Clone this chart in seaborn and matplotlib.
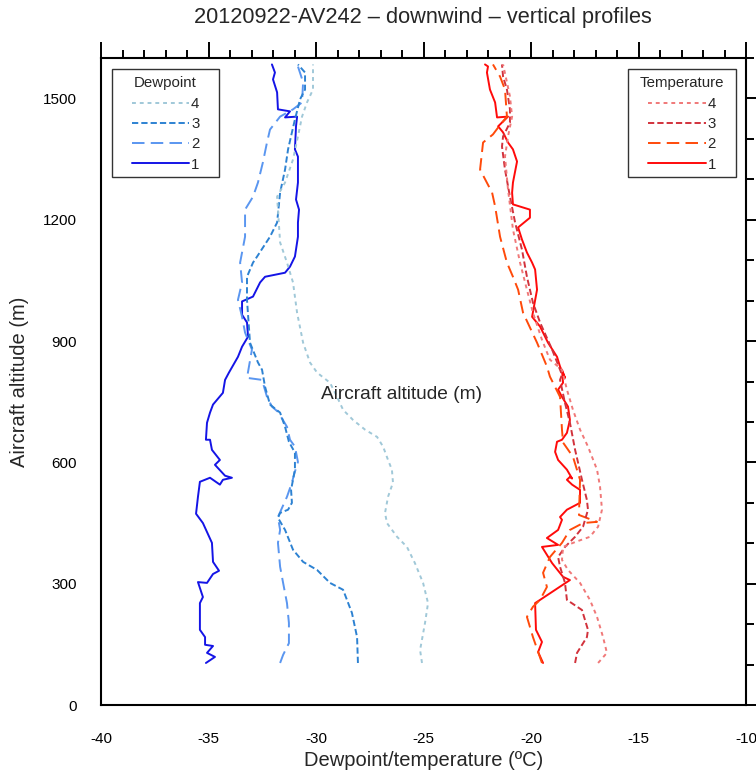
import numpy as np
import pandas as pd
import seaborn as sns
import matplotlib
matplotlib.use("Agg")
import matplotlib.pyplot as plt
from matplotlib.ticker import MultipleLocator
from matplotlib.patches import Rectangle

# dewpoint profiles (degC) vs aircraft altitude (m)
dew1_t = [-35.12, -34.70, -35.07, -34.79, -35.16, -35.16, -35.40, -35.40, -35.26, -35.49, -35.07, -34.79,
          -34.51, -34.79, -34.84, -35.26, -35.58, -35.49, -35.40, -34.93, -34.47, -34.33, -33.91, -34.23,
          -34.70, -34.47, -34.84, -34.93, -35.12, -35.07, -34.93, -34.79, -34.33, -34.23, -34.05, -33.63,
          -33.44, -33.16, -33.21, -33.44, -33.44, -32.93, -32.60, -32.37, -31.44, -31.21, -30.98, -30.84,
          -30.84, -30.79, -30.93, -30.84, -30.84, -30.98, -30.93, -30.88, -31.44, -31.21, -31.77, -31.81,
          -32.00, -31.91, -32.05]
dew1_z = [104, 119, 129, 146, 149, 168, 186, 252, 267, 304, 302, 324,
          332, 354, 401, 450, 473, 515, 552, 562, 545, 557, 562, 567,
          594, 606, 631, 656, 656, 698, 723, 743, 772, 804, 822, 861,
          886, 911, 946, 965, 998, 1010, 1045, 1059, 1069, 1084, 1109, 1158,
          1193, 1225, 1250, 1292, 1356, 1374, 1431, 1455, 1453, 1468, 1473, 1515,
          1547, 1564, 1584]

dew2_t = [-31.67, -31.53, -31.26, -31.26, -31.35, -31.53, -31.67, -31.77, -31.67, -31.77, -31.35, -31.12,
          -31.00, -30.84, -30.98, -31.21, -31.35, -31.77, -32.05, -32.28, -32.51, -33.21, -32.98, -33.30,
          -33.44, -33.63, -33.44, -33.53, -33.30, -33.30, -32.93, -32.70, -32.47, -32.28, -32.14, -31.67,
          -31.07, -30.65, -30.60, -30.84]
dew2_z = [104, 124, 153, 203, 252, 302, 342, 401, 433, 465, 515, 550,
          574, 601, 639, 656, 688, 725, 738, 762, 804, 809, 879, 921,
          960, 1002, 1045, 1094, 1158, 1225, 1257, 1292, 1342, 1391, 1423, 1455,
          1473, 1490, 1540, 1579]

dew3_t = [-28.05, -28.09, -28.33, -28.74, -29.35, -29.95, -30.60, -31.07, -31.44, -31.77, -31.67, -31.30,
          -31.12, -31.16, -30.98, -30.98, -31.26, -31.44, -31.67, -32.14, -32.37, -32.51, -32.70, -33.07,
          -33.21, -33.21, -32.93, -32.74, -32.14, -31.81, -31.67, -31.44, -31.30, -31.12, -30.98, -30.74,
          -30.51, -30.51, -30.84]
dew3_z = [104, 168, 228, 285, 302, 334, 354, 384, 433, 463, 475, 483,
          500, 532, 582, 624, 651, 688, 723, 743, 787, 829, 847, 896,
          1002, 1059, 1094, 1109, 1158, 1193, 1267, 1324, 1374, 1416, 1448, 1498,
          1522, 1564, 1584]

dew4_t = [-25.07, -25.16, -24.93, -24.79, -25.02, -25.40, -25.77, -26.23, -26.70, -26.79, -26.65, -26.42,
          -26.47, -26.65, -26.88, -27.16, -27.72, -28.28, -28.74, -29.02, -29.35, -29.95, -30.28, -30.60,
          -30.88, -31.07, -31.35, -31.67, -31.81, -31.44, -31.07, -30.84, -30.65, -30.42, -30.14, -30.14,
          -30.14]
dew4_z = [104, 136, 203, 252, 302, 351, 391, 416, 450, 475, 515, 550,
          582, 606, 639, 663, 681, 705, 730, 762, 797, 822, 847, 896,
          970, 1045, 1094, 1144, 1257, 1292, 1349, 1406, 1455, 1490, 1522, 1572,
          1584]

# temperature profiles
tmp1_t = [-19.44, -19.67, -19.49, -19.77, -19.81, -19.58, -18.19, -18.51, -19.02, -19.49, -18.74, -19.26,
          -18.74, -18.56, -18.65, -18.33, -17.72, -17.72, -18.09, -18.33, -18.19, -18.09, -18.33, -18.74,
          -18.88, -18.79, -18.56, -18.33, -18.19, -18.28, -18.56, -18.74, -18.51, -18.56, -18.42, -18.65,
          -18.79, -19.21, -19.58, -19.95, -19.72, -19.81, -19.95, -20.19, -20.42, -20.60, -20.05, -20.05,
          -20.84, -20.88, -20.84, -20.65, -20.84, -21.07, -21.30, -21.53, -21.07, -21.58, -21.67, -21.91,
          -22.05, -22.00, -22.14]
tmp1_z = [104, 131, 156, 186, 252, 260, 309, 317, 351, 391, 396, 413,
          433, 458, 465, 483, 500, 532, 545, 557, 564, 560, 582, 606,
          626, 651, 656, 673, 705, 738, 762, 780, 797, 829, 809, 837,
          861, 896, 936, 960, 1027, 1077, 1094, 1119, 1151, 1181, 1205, 1225,
          1238, 1267, 1292, 1344, 1374, 1391, 1416, 1431, 1455, 1453, 1490, 1522,
          1564, 1579, 1584]

tmp2_t = [-19.49, -19.91, -20.19, -19.91, -19.58, -19.26, -19.44, -19.12, -18.56, -18.19, -17.58, -16.93,
          -17.77, -17.72, -18.05, -18.51, -18.56, -18.65, -19.12, -19.26, -19.72, -20.37, -20.60, -20.84,
          -21.12, -21.44, -21.67, -21.81, -22.37, -22.23, -21.77, -21.53, -21.12, -21.21, -21.44, -21.77]
tmp2_z = [104, 168, 218, 243, 260, 292, 327, 366, 401, 433, 450, 453,
          470, 557, 614, 649, 681, 762, 812, 837, 896, 970, 1027, 1059,
          1094, 1158, 1233, 1267, 1324, 1391, 1411, 1428, 1455, 1522, 1554, 1584]

tmp3_t = [-17.95, -17.86, -17.40, -17.35, -17.63, -18.33, -18.42, -18.65, -18.74, -18.42, -17.95, -17.58,
          -17.35, -17.40, -17.63, -17.81, -17.95, -18.19, -18.42, -18.65, -18.56, -19.02, -19.58, -19.91,
          -20.19, -20.42, -20.74, -20.98, -21.21, -21.35, -21.30, -20.98, -20.98, -21.12, -21.30, -21.35]
tmp3_z = [104, 129, 168, 186, 235, 260, 302, 342, 366, 391, 416, 441,
          483, 507, 557, 599, 631, 698, 747, 804, 817, 879, 946, 995,
          1059, 1126, 1193, 1257, 1324, 1381, 1406, 1440, 1473, 1522, 1554, 1584]

tmp4_t = [-16.88, -16.47, -16.65, -16.93, -17.26, -17.72, -18.28, -18.56, -18.51, -17.95, -17.26, -16.88,
          -16.70, -16.79, -16.93, -17.35, -17.72, -18.05, -18.33, -18.56, -19.12, -19.49, -19.91, -20.19,
          -20.51, -20.84, -21.07, -21.21, -21.07, -20.88, -20.98, -21.12, -21.30]
tmp4_z = [104, 129, 168, 218, 260, 302, 334, 359, 391, 403, 416, 441,
          483, 540, 582, 639, 681, 730, 780, 829, 854, 903, 970, 1027,
          1094, 1176, 1275, 1356, 1406, 1455, 1505, 1540, 1584]

flights = ["1", "2", "3", "4"]
dew_colors = ["#1414e6", "#5a96f0", "#2d82d2", "#a0c8d8"]
tmp_colors = ["#ff0a0a", "#ff4a0a", "#d2323c", "#f07878"]
styles = ["-", (0, (9, 4.5)), (0, (4.5, 2.2)), (0, (2.8, 2.8))]

sns.set_style("white")
plt.rcParams["font.family"] = ["Liberation Sans", "DejaVu Sans"]
plt.rcParams["axes.unicode_minus"] = False
plt.rcParams["lines.scale_dashes"] = False

fig = plt.figure(figsize=(7.56, 7.74), dpi=100)
ax = fig.add_axes([0.1336, 0.0891, 0.8532, 0.836])

dew = [(dew1_t, dew1_z), (dew2_t, dew2_z), (dew3_t, dew3_z), (dew4_t, dew4_z)]
tmp = [(tmp1_t, tmp1_z), (tmp2_t, tmp2_z), (tmp3_t, tmp3_z), (tmp4_t, tmp4_z)]

dew_lines = []
for i, (t, z) in enumerate(dew):
    df = pd.DataFrame({"t": t, "z": z})
    sns.lineplot(data=df, x="t", y="z", sort=False, estimator=None, ax=ax,
                 color=dew_colors[i], linestyle=styles[i], linewidth=1.4)
    dew_lines.append(ax.lines[-1])

tmp_lines = []
for i, (t, z) in enumerate(tmp):
    df = pd.DataFrame({"t": t, "z": z})
    sns.lineplot(data=df, x="t", y="z", sort=False, estimator=None, ax=ax,
                 color=tmp_colors[i], linestyle=styles[i], linewidth=1.4)
    tmp_lines.append(ax.lines[-1])

ax.set_xlim(-40, -10)
ax.set_ylim(0, 1600)
ax.xaxis.set_major_locator(MultipleLocator(5))
ax.xaxis.set_minor_locator(MultipleLocator(1))
ax.yaxis.set_major_locator(MultipleLocator(300))
ax.yaxis.set_minor_locator(MultipleLocator(100))
ax.tick_params(which="both", direction="out", top=True, right=True,
               labeltop=False, labelright=False, width=1.4, colors="black")
ax.tick_params(which="major", length=11.5, labelsize=11)
ax.tick_params(which="minor", length=5.8)
ax.tick_params(axis="x", which="major", pad=8)
ax.tick_params(axis="y", which="major", pad=6)
for s in ax.spines.values():
    s.set_linewidth(1.5)
    s.set_color("black")

ax.set_xlabel("Dewpoint/temperature (ºC)", fontsize=14.5)
ax.set_ylabel("Aircraft altitude (m)", fontsize=14.5)
ax.xaxis.set_label_coords(0.5, -0.071)
ax.yaxis.set_label_coords(-0.112, 0.5)

ax.text(-29.75, 767, "Aircraft altitude (m)", fontsize=13.8, va="center", ha="left")

fig.text(0.559, 1 - 18 / 774, "20120922-AV242 \u2013 downwind \u2013 vertical profiles",
         fontsize=15.7, ha="center", va="center")

# legend boxes (drawn separately so the padding matches the original)
boxes = [(0.0171, 0.183), (0.817, 0.9845)]
box_top, box_bot = 0.983, 0.816
for x0, x1 in boxes:
    ax.add_patch(Rectangle((x0, box_bot), x1 - x0, box_top - box_bot, transform=ax.transAxes,
                           facecolor="white", edgecolor="#333333", linewidth=1.0, zorder=5))

leg_kw = dict(frameon=False, fontsize=10.8, title_fontsize=10.8,
              handlelength=3.85, handletextpad=0.1, labelspacing=0.42,
              borderpad=0.5, borderaxespad=0, loc="upper center")
leg1 = ax.legend(handles=dew_lines[::-1], labels=flights[::-1], title="Dewpoint",
                 bbox_to_anchor=(sum(boxes[0]) / 2, box_top), **leg_kw)
leg1.set_zorder(6)
ax.add_artist(leg1)
leg2 = ax.legend(handles=tmp_lines[::-1], labels=flights[::-1], title="Temperature",
                 bbox_to_anchor=(sum(boxes[1]) / 2, box_top), **leg_kw)
leg2.set_zorder(6)

fig.savefig("out.png", dpi=100)
